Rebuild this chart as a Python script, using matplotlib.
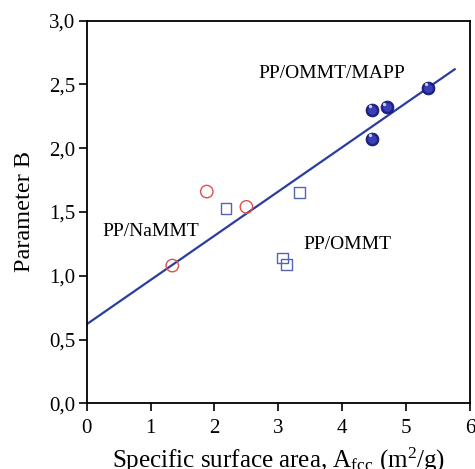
import matplotlib.pyplot as plt
import numpy as np

plt.rcParams['font.family'] = 'Liberation Serif'
plt.rcParams['mathtext.fontset'] = 'custom'
plt.rcParams['mathtext.rm'] = 'Liberation Serif'
plt.rcParams['mathtext.it'] = 'Liberation Serif:italic'

# PP/NaMMT (open circles)
x_na = [1.34, 1.88, 2.50]
y_na = [1.08, 1.66, 1.54]

# PP/OMMT (open squares)
x_om = [2.18, 3.33, 3.06, 3.13]
y_om = [1.53, 1.65, 1.14, 1.09]

# PP/OMMT/MAPP (filled spheres)
x_ma = [4.47, 4.70, 4.47, 5.35]
y_ma = [2.30, 2.32, 2.07, 2.47]

# linear fit B = a + b*A
fit_a = 0.62
fit_b = 0.347
fit_x = [0.0, 5.76]

x_ticks = [0, 1, 2, 3, 4, 5, 6]
y_ticks = [0.0, 0.5, 1.0, 1.5, 2.0, 2.5, 3.0]

fig = plt.figure(figsize=(4.75, 4.69), dpi=100)
ax = fig.add_axes([0.1825, 0.140, 0.807, 0.816])

xf = np.array(fit_x)
ax.plot(xf, fit_a + fit_b * xf, color='#2b3d9e', lw=1.6, zorder=2)

ax.scatter(x_na, y_na, s=80, facecolors='none', edgecolors='#e0504a', linewidths=1.0, zorder=3)
ax.scatter(x_om, y_om, s=60, marker='s', facecolors='none', edgecolors='#5566b0', linewidths=1.0, zorder=3)

# shaded spheres: dark body plus a soft highlight
ax.scatter(x_ma, y_ma, s=85, color='#1e2188', edgecolors='#15176a', linewidths=0.6, zorder=4)
ax.scatter(x_ma, y_ma, s=40, color='#3a3fb8', linewidths=0, zorder=5)
ax.scatter(np.array(x_ma) - 0.04, np.array(y_ma) + 0.03, s=6, color='#c8cdf0', linewidths=0, zorder=6)

ax.text(2.68, 2.55, 'PP/OMMT/MAPP', fontsize=14)
ax.text(0.24, 1.31, 'PP/NaMMT', fontsize=14)
ax.text(3.39, 1.21, 'PP/OMMT', fontsize=14)

ax.set_xlim(0, 6)
ax.set_ylim(0, 3)
ax.set_xticks(x_ticks)
ax.set_yticks(y_ticks)
ax.set_yticklabels([f'{v:.1f}'.replace('.', ',') for v in y_ticks])
ax.tick_params(direction='out', length=6, width=1.2, labelsize=15)
ax.tick_params(axis='x', pad=5)
ax.tick_params(axis='y', pad=2)
for sp in ax.spines.values():
    sp.set_linewidth(1.3)

ax.set_xlabel(r'Specific surface area, A$_{\mathrm{fcc}}$ (m$^{2}$/g)', fontsize=18, labelpad=6)
ax.set_ylabel('Parameter B', fontsize=17.5, labelpad=10)

fig.savefig('out.png', dpi=100)
